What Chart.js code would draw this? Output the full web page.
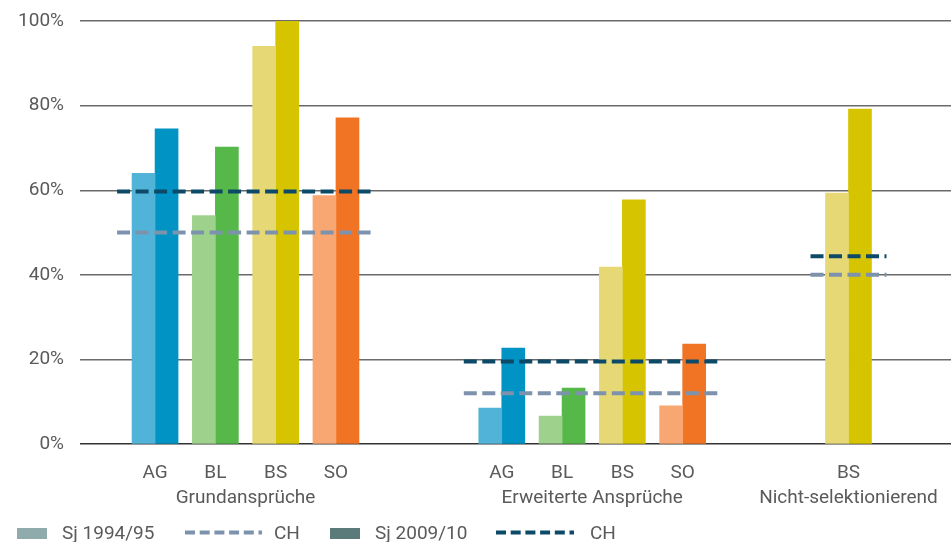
<!DOCTYPE html>
<html><head><meta charset="utf-8">
<script src="https://cdn.jsdelivr.net/npm/chart.js@4"></script>
<style>
html,body{margin:0;padding:0;background:#fff;}
#wrap{position:relative;width:951px;height:542px;overflow:hidden;}
#c{position:absolute;left:0;top:0;}
.lg{position:absolute;top:523px;height:20px;line-height:20px;font-family:Roboto,"Liberation Sans",sans-serif;font-weight:400;font-size:19px;color:#5a5a5a;white-space:nowrap;}
.sq{position:absolute;top:528px;width:30px;height:11px;}
.ln{position:absolute;top:530px;}
</style></head><body>
<div id="wrap"><canvas id="c" width="951" height="542"></canvas>
<div class="sq" style="left:17px;background:#8fabab"></div>
<div class="lg" style="left:62px">Sj 1994/95</div>
<svg class="ln" style="left:185px" width="77" height="5"><line x1="0" y1="2.5" x2="77" y2="2.5" stroke="#7d93ad" stroke-width="4" stroke-dasharray="10 4.7"/></svg>
<div class="lg" style="left:274px">CH</div>
<div class="sq" style="left:330px;background:#5b7b7a"></div>
<div class="lg" style="left:375px">Sj 2009/10</div>
<svg class="ln" style="left:496px" width="78" height="5"><line x1="0" y1="2.5" x2="78" y2="2.5" stroke="#0c4a68" stroke-width="4" stroke-dasharray="10 4.7"/></svg>
<div class="lg" style="left:590px">CH</div>
</div>
<script>
// ---- data ----
const groups = ['Grundansprüche', 'Erweiterte Ansprüche', 'Nicht-selektionierend'];
const groupCantons = [['AG','BL','BS','SO'], ['AG','BL','BS','SO'], ['BS']];
const sj1994 = [64, 54, 94, 58.7, 8.5, 6.6, 41.8, 9, 59.3];
const sj2009 = [74.5, 70.2, 100, 77.1, 22.7, 13.2, 57.7, 23.6, 79.2];
const ch1994 = [50, 12, 40];
const ch2009 = [59.7, 19.5, 44.4];
const yTicks = [0, 20, 40, 60, 80, 100];

// ---- styles ----
const lightCol = {AG:'#52b3d8', BL:'#9ed18c', BS:'#e6d975', SO:'#f8a772'};
const darkCol  = {AG:'#0093c4', BL:'#56b848', BS:'#d7c400', SO:'#f17424'};
const FONT = {family:'Roboto, "Liberation Sans", sans-serif', size:19, weight:'400'};
const TXT = '#5a5a5a';

// ---- layout of categories on a linear axis ----
const GAP = 2.75, EXT = 0.63;
const cantons = [], pos = [], groupCenter = [], groupSpan = [];
let cur = 0;
groupCantons.forEach(cs => {
  const start = cur;
  cs.forEach(c => { cantons.push(c); pos.push(cur); cur += 1; });
  const end = cur - 1;
  groupCenter.push((start + end) / 2);
  groupSpan.push([start - EXT, end + EXT]);
  cur = end + GAP;
});
function chLine(vals) {
  const d = [];
  vals.forEach((v, g) => {
    d.push({x: groupSpan[g][0], y: v});
    d.push({x: groupSpan[g][1], y: v});
    d.push({x: groupSpan[g][1] + 0.01, y: null});
  });
  return d;
}

const XMIN = -1.245, XMAX = 13.2;
new Chart(document.getElementById('c'), {
  type: 'bar',
  data: {
    datasets: [
      {type:'line', label:'CH 2009', data: chLine(ch2009), borderColor:'#0c4a68', borderWidth:4, borderDash:[13,5.5], borderCapStyle:'butt', pointRadius:0, fill:false, spanGaps:false, order:0},
      {type:'line', label:'CH 1994', data: chLine(ch1994), borderColor:'#7d93ad', borderWidth:4, borderDash:[13,5.5], borderCapStyle:'butt', pointRadius:0, fill:false, spanGaps:false, order:0},
      {label:'Sj 1994/95', data: pos.map((x, i) => ({x, y: sj1994[i]})), backgroundColor: cantons.map(c => lightCol[c]), barThickness:23, order:1},
      {label:'Sj 2009/10', data: pos.map((x, i) => ({x, y: sj2009[i]})), backgroundColor: cantons.map(c => darkCol[c]), barThickness:23, order:1}
    ]
  },
  options: {
    responsive: false,
    animation: false,
    layout: {padding: {top:21, left:0, right:0, bottom:0}},
    plugins: {legend:{display:false}, tooltip:{enabled:false}},
    scales: {
      x: {
        type:'linear', min:XMIN, max:XMAX, bounds:'data', offset:false, position:'bottom', weight:0,
        grid:{display:false, offset:false}, border:{display:false},
        afterBuildTicks: s => { s.ticks = pos.map(v => ({value:v})); },
        ticks:{callback:(v, i) => cantons[i], autoSkip:false, maxRotation:0, padding:10, font:FONT, color:TXT},
        afterFit: s => { s.height = 34; s.paddingLeft = 0; s.paddingRight = 0; }
      },
      x2: {
        type:'linear', min:XMIN, max:XMAX, bounds:'data', offset:false, position:'bottom', weight:1,
        grid:{display:false, offset:false}, border:{display:false},
        afterBuildTicks: s => { s.ticks = groupCenter.map(v => ({value:v})); },
        ticks:{callback:(v, i) => groups[i], autoSkip:false, maxRotation:0, padding:1, font:FONT, color:TXT},
        afterFit: s => { s.height = 64; s.paddingLeft = 0; s.paddingRight = 0; }
      },
      y: {
        min:0, max:100,
        afterBuildTicks: s => { s.ticks = yTicks.map(v => ({value:v})); },
        ticks:{callback: v => v + '%', padding:16, font:FONT, color:TXT},
        grid:{drawTicks:false, color: c => c.tick && c.tick.value === 0 ? '#333' : '#6a6a6a', lineWidth:1.4},
        border:{display:false},
        afterFit: s => { s.width = 80; s.paddingTop = 10; s.paddingBottom = 10; }
      }
    }
  }
});
</script>
</body></html>
